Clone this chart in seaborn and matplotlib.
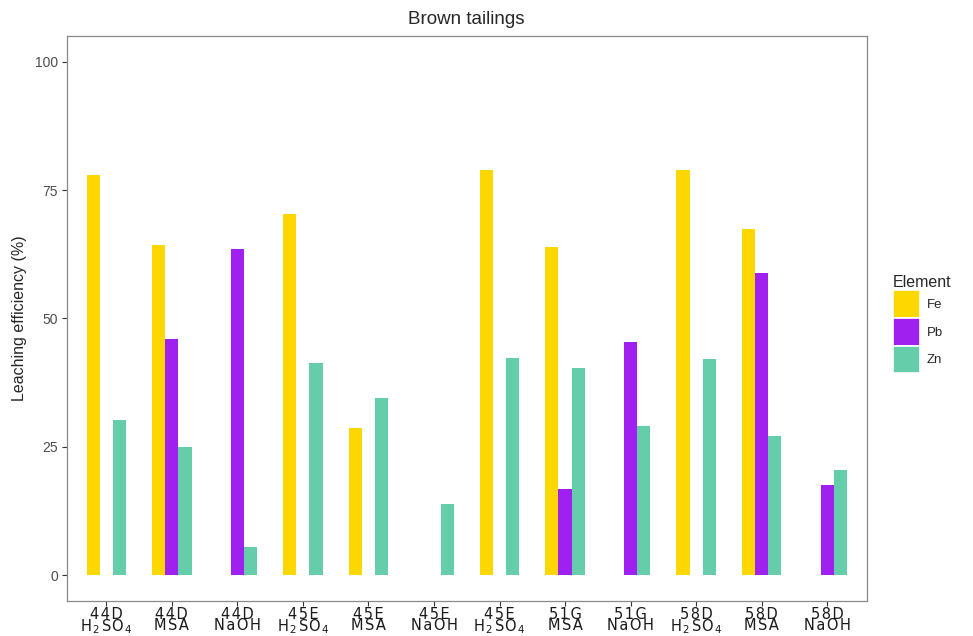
import numpy as np
import pandas as pd
import matplotlib
matplotlib.use("Agg")
import matplotlib.pyplot as plt
from matplotlib.patches import Patch
import seaborn as sns

# Leaching efficiency (%) per sample / reagent
samples = ["44D", "44D", "44D", "45E", "45E", "45E", "45E", "51G", "51G", "58D", "58D", "58D"]
reagents = ["H2SO4", "MSA", "NaOH", "H2SO4", "MSA", "NaOH", "H2SO4", "MSA", "NaOH", "H2SO4", "MSA", "NaOH"]
fe = [78.0, 64.3, np.nan, 70.3, 28.6, np.nan, 79.0, 64.0, np.nan, 79.0, 67.4, np.nan]
pb = [np.nan, 46.1, 63.5, np.nan, np.nan, np.nan, np.nan, 16.9, 45.5, np.nan, 58.8, 17.6]
zn = [30.2, 25.0, 5.45, 41.3, 34.6, 13.8, 42.4, 40.4, 29.1, 42.1, 27.1, 20.6]
elements = ["Fe", "Pb", "Zn"]
palette = {"Fe": "#FFD700", "Pb": "#A020F0", "Zn": "#66CDAA"}

run_ids = [f"run{i}" for i in range(len(samples))]
rows = []
for rid, a, b, c in zip(run_ids, fe, pb, zn):
    for el, v in zip(elements, (a, b, c)):
        if not np.isnan(v):
            rows.append({"run": rid, "Element": el, "value": v})
df = pd.DataFrame(rows)

HAIR = "\u200a"


def spaced(text):
    return HAIR.join(text)


def reagent_tex(r):
    if r == "H2SO4":
        return HAIR.join(["H", "$_2$", "S", "O", "$_4$"])
    return spaced(r)


tick_labels = [f"{spaced(s)}\n{reagent_tex(r)}" for s, r in zip(samples, reagents)]

sns.set_theme(style="white")
plt.rcParams["font.family"] = ["DejaVu Sans"]

fig = plt.figure(figsize=(9.73, 6.36), dpi=100)
ax = fig.add_axes([67 / 973, 1 - 601 / 636, (866.5 - 67) / 973, (601 - 36) / 636])

sns.barplot(data=df, x="run", y="value", hue="Element", order=run_ids,
            hue_order=elements, palette=palette, width=0.6, saturation=1,
            errorbar=None, linewidth=0, legend=False, ax=ax)

ax.set_xlim(-0.6, len(run_ids) - 0.4)
ax.set_ylim(-5, 105)
ax.set_yticks([0, 25, 50, 75, 100])
ax.set_yticklabels(["0", "25", "50", "75", "100"], color="#4D4D4D", fontsize=10,
                   family="Liberation Sans")
ax.set_xticks(range(len(run_ids)))
ax.set_xticklabels(tick_labels, fontsize=10.5, color="#1A1A1A", linespacing=0.72)
ax.tick_params(axis="both", bottom=True, left=True, length=3.5, width=0.8,
               color="#333333")
ax.tick_params(axis="x", pad=0.5)
ax.tick_params(axis="y", pad=3)
ax.set_xlabel("")
ax.set_ylabel("Leaching efficiency (%)", fontsize=11.5, family="Liberation Sans",
              labelpad=6)
ax.set_title("Brown tailings", fontsize=13.5, family="Liberation Sans", pad=9)

for sp in ax.spines.values():
    sp.set_color("#8A8A8A")
    sp.set_linewidth(0.9)

handles = [Patch(facecolor=palette[e], edgecolor="white", linewidth=1.2, label=e)
           for e in elements]
leg = fig.legend(handles=handles, title="Element", loc="upper left",
                 bbox_to_anchor=(876 / 973, 1 - 258 / 636), frameon=False,
                 borderpad=0.8, labelspacing=0.0, handlelength=2.0, handleheight=2.85,
                 handletextpad=0.55, alignment="left",
                 prop={"family": "Liberation Sans", "size": 9.5})
leg.get_title().set_fontsize(11.5)
leg.get_title().set_family("Liberation Sans")

fig.savefig("out.png", dpi=100)
